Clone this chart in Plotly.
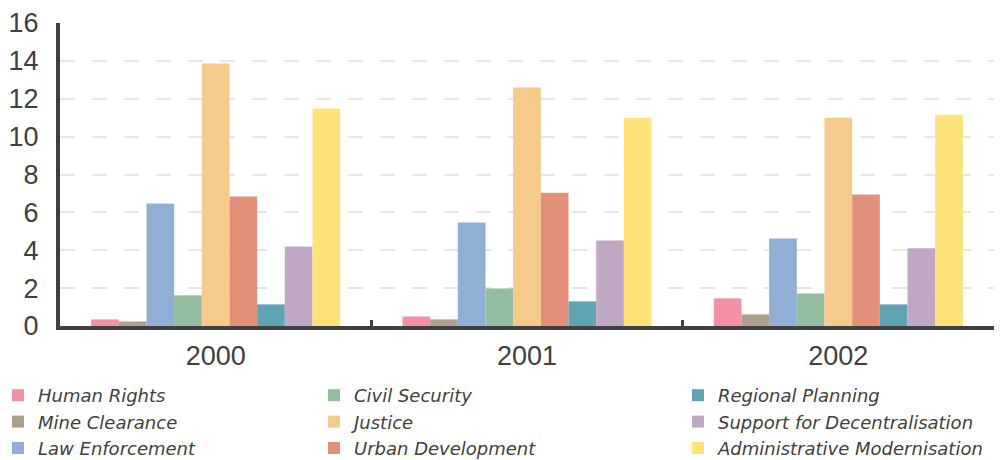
import plotly.graph_objects as go

years = ["2000", "2001", "2002"]

sectors = [
    "Human Rights",
    "Mine Clearance",
    "Law Enforcement",
    "Civil Security",
    "Justice",
    "Urban Development",
    "Regional Planning",
    "Support for Decentralisation",
    "Administrative Modernisation",
]

human_rights = [0.35, 0.5, 1.46]
mine_clearance = [0.24, 0.35, 0.61]
law_enforcement = [6.47, 5.47, 4.62]
civil_security = [1.62, 1.98, 1.72]
justice = [13.86, 12.59, 11.0]
urban_development = [6.84, 7.04, 6.94]
regional_planning = [1.14, 1.3, 1.14]
decentralisation = [4.2, 4.52, 4.1]
admin_modernisation = [11.48, 11.0, 11.16]

series = [
    human_rights, mine_clearance, law_enforcement,
    civil_security, justice, urban_development,
    regional_planning, decentralisation, admin_modernisation,
]

colors = [
    "#f291a4", "#ae9f8c", "#91aed4",
    "#93bd9e", "#f5ca8b", "#e3907a",
    "#60a4b4", "#bfa8c4", "#ffe27a",
]

# three legend columns, filled top to bottom
legend_ids = ["legend", "legend", "legend",
              "legend2", "legend2", "legend2",
              "legend3", "legend3", "legend3"]

AXIS = "#404040"
W, H = 1001, 460
ML, MR, MT, MB = 60, 7, 23, 134
PW = W - ML - MR
PH = H - MT - MB


def px_x(px):
    return (px - ML) / PW


def px_y(py):
    return (H - MB - py) / PH


fig = go.Figure()
for name, vals, col, lg in zip(sectors, series, colors, legend_ids):
    fig.add_trace(go.Bar(
        x=years, y=vals, name=name, marker=dict(color=col, line=dict(width=0)),
        legend=lg, hoverinfo="skip",
    ))

legend_font = dict(family="DejaVu Sans", size=18, color=AXIS, style="italic")
legend_common = dict(
    yanchor="top", xanchor="left",
    orientation="v", font=legend_font, bgcolor="rgba(0,0,0,0)",
    borderwidth=0, itemclick=False, itemdoubleclick=False,
    traceorder="normal",
)

fig.update_layout(
    width=W, height=H,
    margin=dict(l=ML, r=MR, t=MT, b=MB, autoexpand=False),
    paper_bgcolor="white", plot_bgcolor="white",
    barmode="group", bargap=0.2, bargroupgap=0,
    showlegend=True,
    legend=dict(x=px_x(-2), y=px_y(377), **legend_common),
    legend2=dict(x=px_x(314), y=px_y(377), **legend_common),
    legend3=dict(x=px_x(678), y=px_y(377), **legend_common),
    xaxis=dict(
        showline=True, linecolor=AXIS, linewidth=4,
        showgrid=False, zeroline=False,
        ticks="inside", tickson="boundaries", ticklen=6, tickwidth=3, tickcolor=AXIS,
        tickfont=dict(family="Liberation Sans", size=27, color=AXIS),
        ticklabelstandoff=3,
    ),
    yaxis=dict(
        range=[0, 16], dtick=2, tick0=0,
        showline=True, linecolor=AXIS, linewidth=4,
        showgrid=True, gridcolor="#e6e6e6", gridwidth=2, griddash="15px,17px",
        zeroline=False, ticks="",
        tickfont=dict(family="Liberation Sans", size=27, color=AXIS),
        ticklabelstandoff=12,
    ),
)

fig.write_html("out.html")
